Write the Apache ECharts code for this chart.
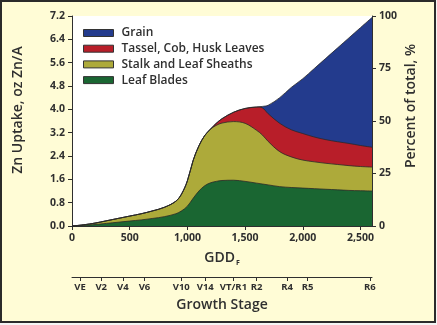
<!DOCTYPE html>
<html>
<head>
<meta charset="utf-8">
<script src="https://cdn.jsdelivr.net/npm/echarts@6/dist/echarts.min.js"></script>
<style>
  html, body { margin: 0; padding: 0; background: #f4f4f4; }
  #frame { position: absolute; left: 0; top: 0; width: 436px; height: 323px; box-sizing: border-box;
           border: 2px solid #2b2b2b; background: #fffcd6; }
  #chart { position: absolute; left: 0; top: 0; width: 437px; height: 325px; }
</style>
</head>
<body>
<div id="frame"></div>
<div id="chart"></div>
<script>
// Growing degree days (F) at which uptake was sampled
const gdd = [0, 100, 200, 300, 400, 500, 600, 700, 800, 900, 950, 1000, 1050, 1100, 1150, 1200,
             1250, 1300, 1400, 1500, 1600, 1650, 1700, 1800, 1900, 2000, 2100, 2200, 2300, 2400, 2500, 2600];

// Zn uptake by plant part, oz Zn/A
const leafBlades = [0, 0.02, 0.05, 0.09, 0.13, 0.17, 0.21, 0.26, 0.32, 0.42, 0.52, 0.68, 0.95, 1.20, 1.38, 1.48,
                    1.53, 1.56, 1.57, 1.53, 1.47, 1.44, 1.41, 1.35, 1.32, 1.30, 1.28, 1.26, 1.24, 1.22, 1.21, 1.20];
const stalkSheaths = [0, 0.02, 0.05, 0.09, 0.13, 0.17, 0.21, 0.26, 0.32, 0.43, 0.58, 0.87, 1.30, 1.55, 1.72, 1.84,
                      1.92, 1.97, 2.01, 1.99, 1.81, 1.68, 1.49, 1.20, 1.05, 0.96, 0.92, 0.89, 0.87, 0.85, 0.83, 0.82];
const tasselCobHusk = [0, 0, 0, 0, 0, 0, 0, 0, 0, 0, 0, 0, 0, 0, 0, 0,
                       0.07, 0.15, 0.32, 0.51, 0.80, 0.93, 0.95, 0.97, 0.93, 0.91, 0.85, 0.81, 0.78, 0.76, 0.72, 0.68];
const grain = [0, 0, 0, 0, 0, 0, 0, 0, 0, 0, 0, 0, 0, 0, 0, 0,
               0, 0, 0, 0, 0, 0.05, 0.29, 0.88, 1.45, 1.88, 2.35, 2.79, 3.21, 3.62, 4.04, 4.45];

// Growth stage markers along the GDD scale
const stageNames = ['VE', 'V2', 'V4', 'V6', 'V10', 'V14', 'VT/R1', 'R2', 'R4', 'R5', 'R6'];
const stageGdd = [70, 253, 440, 628, 947, 1155, 1399, 1600, 1865, 2041, 2582];

const gddTicks = [0, 500, 1000, 1500, 2000, 2500];

// Layers from bottom to top
const layerNames = ['Leaf Blades', 'Stalk and Leaf Sheaths', 'Tassel, Cob, Husk Leaves', 'Grain'];
const layerColors = ['#1a6632', '#adaa3a', '#b81e29', '#233b8d'];
const layerValues = [leafBlades, stalkSheaths, tasselCobHusk, grain];

// Running totals: each layer's upper edge is the sum of it and everything beneath
const cumulative = layerValues.map((_, k) =>
  gdd.map((g, i) => {
    let s = 0;
    for (let j = 0; j <= k; j++) s += layerValues[j][i];
    return [g, Math.round(s * 1000) / 1000];
  })
);

const FONT = '"Open Sans", sans-serif';
const INK = '#2f2f2f';

const chart = echarts.init(document.getElementById('chart'), null, { renderer: 'canvas' });

const fmtThousands = v => v >= 1000 ? Math.floor(v / 1000) + ',' + String(v % 1000).padStart(3, '0') : String(v);

// Topmost layer is drawn first so the lower layers paint over its fill
const series = [3, 2, 1, 0].map(k => ({
  name: layerNames[k],
  type: 'line',
  xAxisIndex: 0,
  yAxisIndex: 0,
  smooth: 0.35,
  symbol: 'none',
  color: layerColors[k],
  lineStyle: { color: '#2a2a2a', width: 0.8 },
  areaStyle: { color: layerColors[k], opacity: 1 },
  itemStyle: { color: layerColors[k] },
  data: cumulative[k]
}));

const titleStyle = { fontFamily: FONT, fontSize: 14, fontWeight: 600, fill: INK, align: 'center', verticalAlign: 'middle' };

chart.setOption({
  backgroundColor: 'transparent',
  animation: false,
  textStyle: { fontFamily: FONT },
  legend: {
    orient: 'vertical',
    left: 83,
    top: 26,
    padding: 0,
    z: 20,
    icon: 'rect',
    itemWidth: 30,
    itemHeight: 7,
    itemGap: 1.7,
    data: ['Grain', 'Tassel, Cob, Husk Leaves', 'Stalk and Leaf Sheaths', 'Leaf Blades'],
    itemStyle: { borderColor: '#333', borderWidth: 1 },
    textStyle: { fontFamily: FONT, fontSize: 12, color: INK, lineHeight: 14, fontWeight: 600, padding: [0, 0, 0, 3] }
  },
  graphic: [
    { type: 'text', left: null, x: 18, y: 110, rotation: Math.PI / 2, style: Object.assign({ text: 'Zn Uptake, oz Zn/A' }, titleStyle) },
    { type: 'text', x: 411, y: 106, rotation: Math.PI / 2, style: Object.assign({ text: 'Percent of total, %' }, titleStyle) }
  ],
  grid: [
    { left: 72, right: 65, top: 16, bottom: 99, backgroundColor: '#ffffff', show: true, borderWidth: 0 },
    { left: 72, right: 65, top: 276, height: 1, show: false }
  ],
  xAxis: [
    {
      type: 'value', gridIndex: 0, min: 0, max: 2600,
      name: '{a|GDD}{b|F}', nameLocation: 'middle', nameGap: 24,
      nameTextStyle: {
        rich: {
          a: { fontFamily: FONT, fontSize: 14, fontWeight: 600, color: INK },
          b: { fontFamily: FONT, fontSize: 7, fontWeight: 700, color: INK, padding: [9, 0, 0, 1] }
        }
      },
      axisLine: { show: true, onZero: false, lineStyle: { color: INK, width: 1 } },
      axisTick: { show: true, length: 4, lineStyle: { color: INK }, customValues: gddTicks },
      axisLabel: { customValues: gddTicks, fontFamily: FONT, fontSize: 10.5, fontWeight: 700, color: INK, margin: 7,
                   formatter: v => fmtThousands(v) },
      splitLine: { show: false }
    },
    {
      type: 'value', gridIndex: 1, min: 0, max: 2600, position: 'bottom',
      name: 'Growth Stage', nameLocation: 'middle', nameGap: 21,
      nameTextStyle: { fontFamily: FONT, fontSize: 14, fontWeight: 600, color: INK },
      axisLine: { show: true, onZero: false, lineStyle: { color: INK, width: 1 } },
      axisTick: { show: true, length: 4, lineStyle: { color: INK }, customValues: stageGdd },
      axisLabel: { customValues: stageGdd, fontFamily: FONT, fontSize: 9.5, fontWeight: 700, color: INK, margin: 5,
                   formatter: v => stageNames[stageGdd.indexOf(v)] },
      splitLine: { show: false }
    }
  ],
  yAxis: [
    {
      type: 'value', gridIndex: 0, min: 0, max: 7.2, interval: 0.8, position: 'left',
      axisLine: { show: true, lineStyle: { color: INK, width: 1 } },
      axisTick: { show: true, length: 4, lineStyle: { color: INK } },
      axisLabel: { fontFamily: FONT, fontSize: 10.5, fontWeight: 700, color: INK, margin: 7,
                   formatter: v => v.toFixed(1) },
      splitLine: { show: false }
    },
    {
      type: 'value', gridIndex: 0, min: 0, max: 100, interval: 25, position: 'right',
      axisLine: { show: true, lineStyle: { color: INK, width: 1 } },
      axisTick: { show: true, length: 4, lineStyle: { color: INK } },
      axisLabel: { fontFamily: FONT, fontSize: 10.5, fontWeight: 700, color: INK, margin: 7 },
      splitLine: { show: false }
    },
    { type: 'value', gridIndex: 1, min: 0, max: 1, show: false }
  ],
  series
});
</script>
</body>
</html>
